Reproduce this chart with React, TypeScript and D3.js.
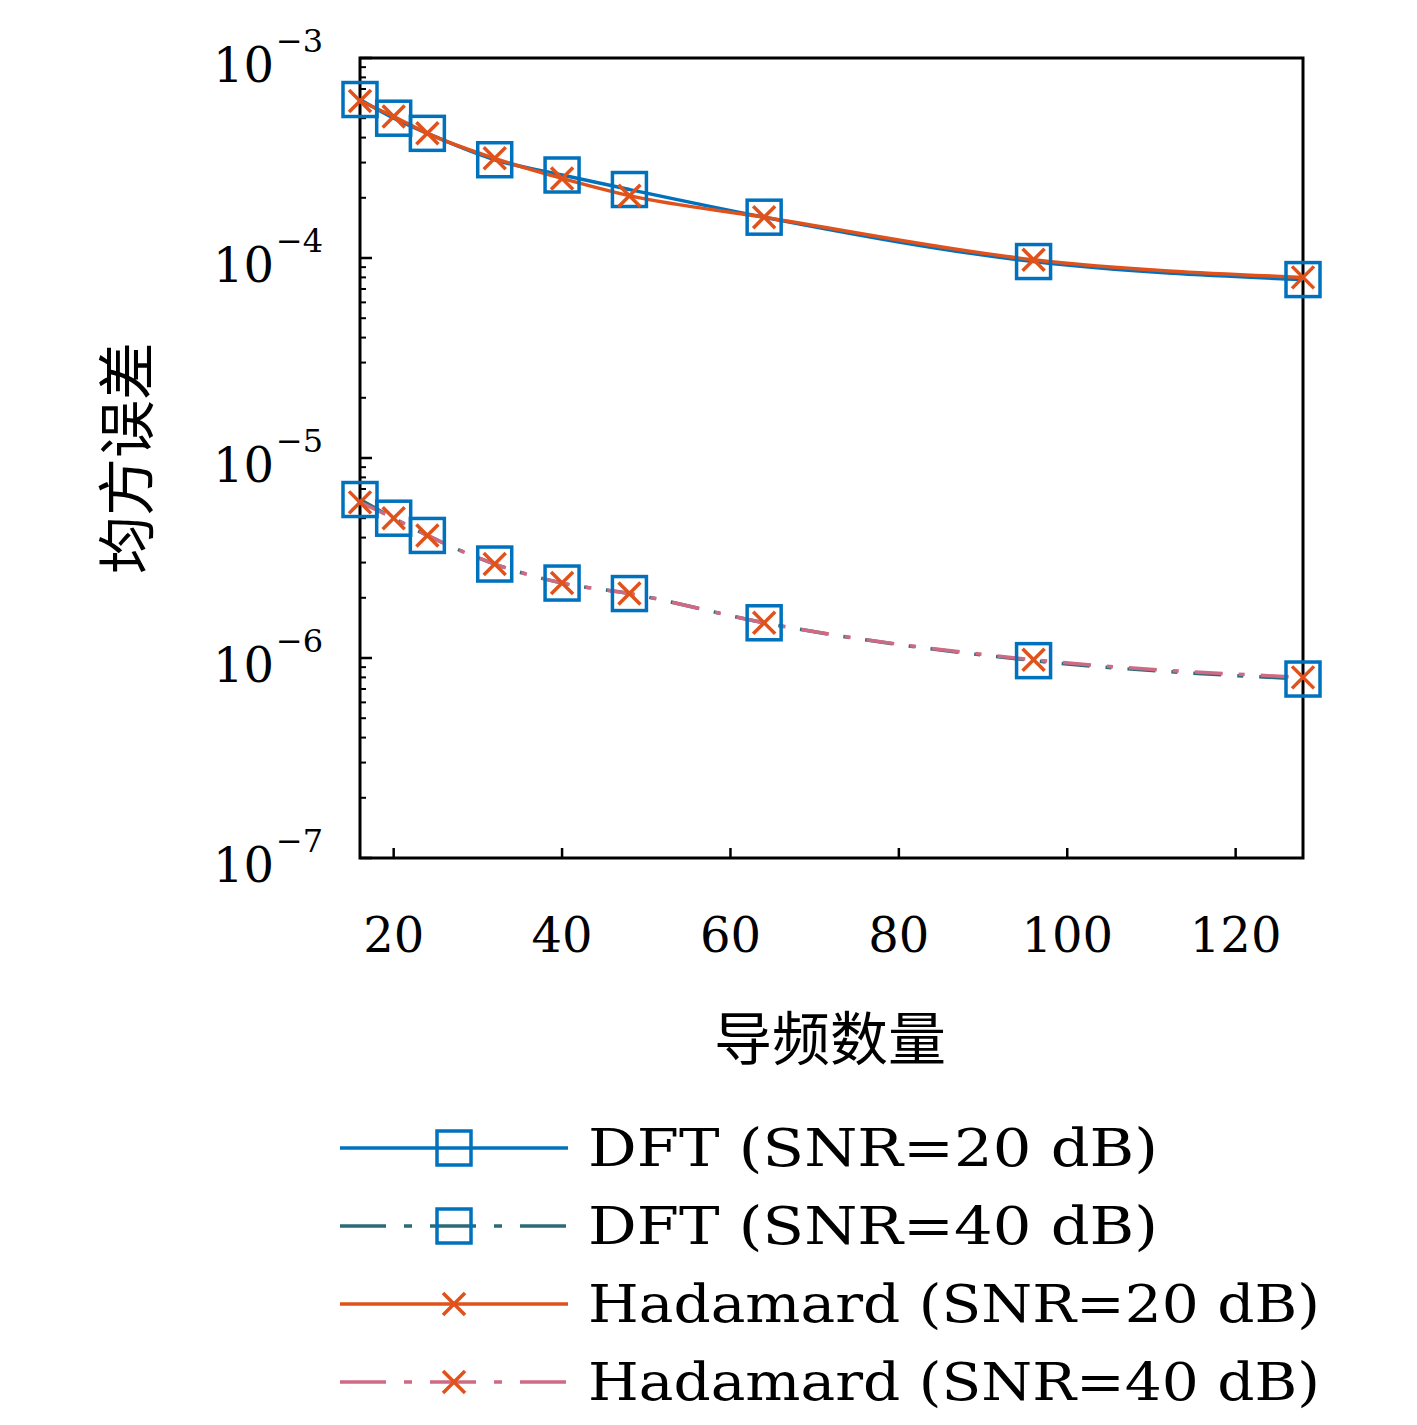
import React from "react";
import * as d3 from "d3";

const pilots = [16, 20, 24, 32, 40, 48, 64, 96, 128];
const dft20 = [6.2e-4, 5.0e-4, 4.2e-4, 3.1e-4, 2.6e-4, 2.2e-4, 1.6e-4, 9.6e-5, 7.8e-5];
const dft40 = [6.2e-6, 5.0e-6, 4.1e-6, 2.95e-6, 2.37e-6, 2.1e-6, 1.5e-6, 9.7e-7, 7.85e-7];
const had20 = [6.1e-4, 5.1e-4, 4.2e-4, 3.15e-4, 2.5e-4, 2.05e-4, 1.6e-4, 9.8e-5, 8.0e-5];
const had40 = [6.0e-6, 5.0e-6, 4.1e-6, 2.95e-6, 2.37e-6, 2.1e-6, 1.5e-6, 9.8e-7, 8.0e-7];
const xTicks = [20, 40, 60, 80, 100, 120];
const yExps = [-3, -4, -5, -6, -7];

const series = [
  { name: "DFT (SNR=20 dB)", values: dft20, color: "#0072BD", dash: "none", marker: "square", w: 570 },
  { name: "DFT (SNR=40 dB)", values: dft40, color: "#2b6b78", dash: "28 16 6 16", marker: "square", w: 570 },
  { name: "Hadamard (SNR=20 dB)", values: had20, color: "#E0521B", dash: "none", marker: "cross", w: 732 },
  { name: "Hadamard (SNR=40 dB)", values: had40, color: "#cf6a84", dash: "28 16 6 16", marker: "cross", w: 732 },
];

const L = 360, R = 1303, T = 58, B = 858;
const serif = "'DejaVu Serif', 'Liberation Serif', serif";
const cjk = "'Noto Sans CJK SC', sans-serif";

function Marker({ x, y, type }: { x: number; y: number; type: string }) {
  if (type === "square")
    return <rect x={x - 17} y={y - 17} width={34} height={34} fill="none" stroke="#0072BD" strokeWidth={3.5} />;
  const s = 11;
  return (
    <g stroke="#E0521B" strokeWidth={3.5}>
      <line x1={x - s} y1={y - s} x2={x + s} y2={y + s} />
      <line x1={x - s} y1={y + s} x2={x + s} y2={y - s} />
    </g>
  );
}

export default function App() {
  const x = d3.scaleLinear().domain([16, 128]).range([L, R]);
  const y = d3.scaleLog().domain([1e-7, 1e-3]).range([B, T]);
  const line = (vals: number[]) =>
    d3.line<number>().x((_, i) => x(pilots[i])).y((v) => y(v)).curve(d3.curveMonotoneX)(vals) || "";
  const minor: number[] = [];
  for (let e = -7; e < -3; e++) for (let m = 2; m <= 9; m++) minor.push(m * Math.pow(10, e));
  const legY = [1148, 1226, 1304, 1382];
  return (
    <svg width={1417} height={1425} style={{ position: "absolute", left: 0, top: 0, background: "#fff" }}>
      <rect x={L} y={T} width={R - L} height={B - T} fill="none" stroke="#000" strokeWidth={3} />
      {xTicks.map((t) => (
        <g key={t}>
          <line x1={x(t)} x2={x(t)} y1={B} y2={B - 10} stroke="#000" strokeWidth={2.5} />
          <text x={x(t)} y={952} textAnchor="middle" fontFamily={serif} fontSize={48}>{t}</text>
        </g>
      ))}
      {yExps.map((e) => (
        <g key={e}>
          <line x1={L} x2={L + 12} y1={y(Math.pow(10, e))} y2={y(Math.pow(10, e))} stroke="#000" strokeWidth={2.5} />
          <text x={274} y={y(Math.pow(10, e)) + 24} textAnchor="end" fontFamily={serif} fontSize={48}>10</text>
          <text x={276} y={y(Math.pow(10, e)) - 6} fontFamily={serif} fontSize={32}>{"\u2212" + -e}</text>
        </g>
      ))}
      {minor.map((v, i) => (
        <line key={i} x1={L} x2={L + 6} y1={y(v)} y2={y(v)} stroke="#000" strokeWidth={2} />
      ))}
      {series.map((s) => (
        <path key={s.name} d={line(s.values)} fill="none" stroke={s.color} strokeWidth={3.5} strokeDasharray={s.dash} />
      ))}
      {series.map((s) => (
        <g key={s.name + "m"}>
          {s.values.map((v, i) => <Marker key={i} x={x(pilots[i])} y={y(v)} type={s.marker} />)}
        </g>
      ))}
      <text x={830} y={1060} textAnchor="middle" fontFamily={cjk} fontSize={58}>导频数量</text>
      <text transform={`translate(148,458) rotate(-90)`} textAnchor="middle" fontFamily={cjk} fontSize={58}>均方误差</text>
      {series.map((s, i) => (
        <g key={s.name + "l"}>
          <line x1={340} x2={568} y1={legY[i]} y2={legY[i]} stroke={s.color} strokeWidth={3.5} strokeDasharray={s.dash === "none" ? "none" : "46 18 8 18"} />
          <Marker x={454} y={legY[i]} type={s.marker} />
          <text x={588} y={legY[i] + 18} fontFamily={serif} fontSize={52} textLength={s.w} lengthAdjust="spacingAndGlyphs">{s.name}</text>
        </g>
      ))}
    </svg>
  );
}
